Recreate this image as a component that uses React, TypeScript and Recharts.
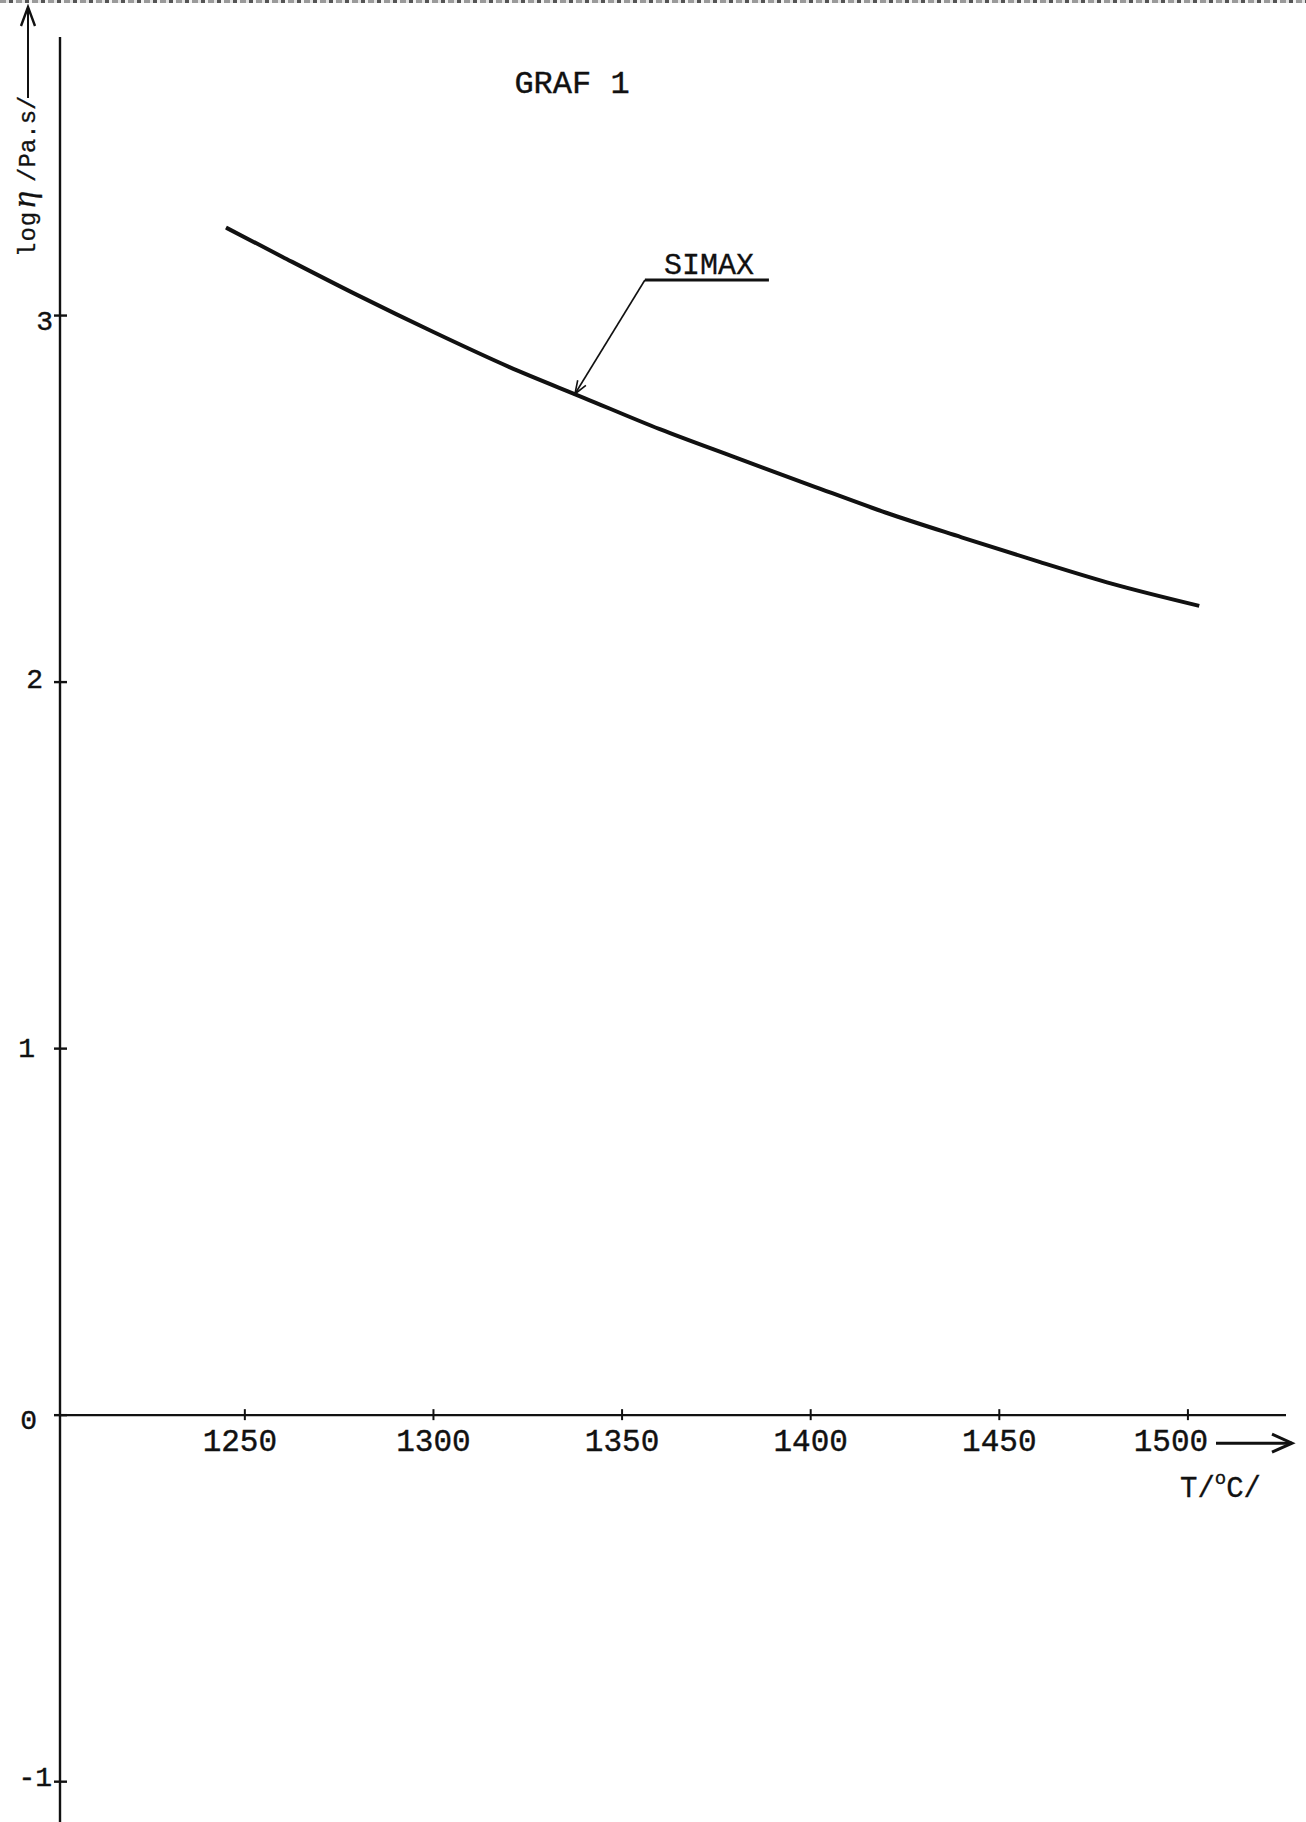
import React from 'react';
import { LineChart, Line, XAxis, YAxis, ReferenceLine, ReferenceDot } from 'recharts';

// SIMAX viscosity curve
const temps = [1245, 1260, 1280, 1300, 1320, 1340, 1360, 1380, 1400, 1420, 1440, 1460, 1480, 1503];
const logVisc = [3.24, 3.16, 3.055, 2.955, 2.86, 2.775, 2.69, 2.613, 2.537, 2.462, 2.395, 2.33, 2.268, 2.208];

const tempTicks = [1250, 1300, 1350, 1400, 1450, 1500];
const logTicks = [-1, 0, 1, 2, 3];

const curve = temps.map((t, i) => ({ t, v: logVisc[i] }));

const INK = '#111';
const MONO = '"Liberation Mono", "DejaVu Sans Mono", monospace';

// the typed labels sit a bit unevenly next to the axes
const yNudge: Record<number, [number, number]> = {
  3: [-7, 7],
  2: [-17, -2],
  1: [-25, 1],
  0: [-23, 6],
  [-1]: [-8, -3],
};
const xNudge: Record<number, number> = { 1250: -5, 1500: -17 };

function YTick({ x, y, payload }: any) {
  const [dx, dy] = yNudge[payload.value] ?? [-10, 0];
  return (
    <g>
      <line x1={x - 6} x2={x + 7} y1={y} y2={y} stroke={INK} strokeWidth={2.4} />
      <text
        x={x + dx}
        y={y + dy}
        textAnchor="end"
        dominantBaseline="central"
        fontFamily={MONO}
        fontSize={28}
        fill={INK}
        stroke={INK}
        strokeWidth={0.4}
      >
        {payload.value < 0 ? `-${Math.abs(payload.value)}` : payload.value}
      </text>
    </g>
  );
}

function xTickShape(t: number) {
  return ({ cx, cy }: any) => (
    <g>
      <line x1={cx} x2={cx} y1={cy - 6} y2={cy + 5} stroke={INK} strokeWidth={2} />
      <text
        x={cx + (xNudge[t] ?? 0)}
        y={cy + 36}
        textAnchor="middle"
        fontFamily={MONO}
        fontSize={31}
        fill={INK}
        stroke={INK}
        strokeWidth={0.4}
      >
        {t}
      </text>
    </g>
  );
}

function AxisEnd({ cx, cy }: any) {
  const ay = cy + 28;
  return (
    <g>
      <line x1={cx - 70} x2={cx + 6} y1={ay} y2={ay} stroke={INK} strokeWidth={3} />
      <polyline
        points={`${cx - 14},${ay - 9} ${cx + 6},${ay} ${cx - 14},${ay + 9}`}
        fill="none"
        stroke={INK}
        strokeWidth={3}
      />
      <text x={cx - 106} y={cy + 82} fontFamily={MONO} fontSize={29} fill={INK} stroke={INK} strokeWidth={0.3}>
        T/<tspan fontSize={19} dy={-13}>o</tspan>
        <tspan dy={13}>C/</tspan>
      </text>
    </g>
  );
}

function SimaxCallout({ cx, cy }: any) {
  const ex = cx + 70;
  const ey = cy - 114;
  const len = Math.hypot(ex - cx, ey - cy);
  const ux = (ex - cx) / len;
  const uy = (ey - cy) / len;
  const head = (a: number) => {
    const c = Math.cos(a);
    const s = Math.sin(a);
    return `${cx + 14 * (ux * c - uy * s)},${cy + 14 * (ux * s + uy * c)}`;
  };
  return (
    <g>
      <line x1={cx} y1={cy} x2={ex} y2={ey} stroke={INK} strokeWidth={1.6} />
      <polyline points={`${head(0.35)} ${cx},${cy} ${head(-0.35)}`} fill="none" stroke={INK} strokeWidth={1.6} />
      <line x1={ex} y1={ey} x2={ex + 124} y2={ey} stroke={INK} strokeWidth={3} />
      <text
        x={ex + 64}
        y={ey - 6}
        textAnchor="middle"
        fontFamily={MONO}
        fontSize={30}
        fill={INK}
        stroke={INK}
        strokeWidth={0.3}
      >
        SIMAX
      </text>
    </g>
  );
}

export default function App() {
  return (
    <div style={{ position: 'absolute', left: 0, top: 0, width: 1306, height: 1822, background: '#fff' }}>
      <div
        style={{
          position: 'absolute',
          left: 0,
          top: 0,
          width: 1306,
          height: 3,
          background: 'repeating-linear-gradient(90deg, #9a9a9a 0 6px, #e4e4e4 6px 9px, #555 9px 13px, #f2f2f2 13px 16px)',
        }}
      />
      <LineChart width={1306} height={1822} data={curve} margin={{ top: 37, right: 20, bottom: 0, left: 0 }}>
        <XAxis type="number" dataKey="t" domain={[1201, 1526]} hide allowDataOverflow />
        <YAxis
          type="number"
          domain={[-1.11, 3.76]}
          ticks={logTicks}
          interval={0}
          width={60}
          tickSize={0}
          tickMargin={0}
          tickLine={false}
          axisLine={{ stroke: INK, strokeWidth: 2.4 }}
          tick={<YTick />}
          allowDataOverflow
        />
        <ReferenceLine y={0} stroke={INK} strokeWidth={2.4} />
        {tempTicks.map((t) => (
          <ReferenceDot key={t} x={t} y={0} r={1} ifOverflow="visible" shape={xTickShape(t)} />
        ))}
        <ReferenceDot x={1526} y={0} r={1} ifOverflow="visible" shape={<AxisEnd />} />
        <Line
          type="monotone"
          dataKey="v"
          stroke={INK}
          strokeWidth={4}
          dot={false}
          isAnimationActive={false}
        />
        <ReferenceDot x={1337.5} y={2.786} r={1} ifOverflow="visible" shape={<SimaxCallout />} />

        <text
          x={572}
          y={93}
          textAnchor="middle"
          fontFamily={MONO}
          fontSize={32}
          fill={INK}
          stroke={INK}
          strokeWidth={0.4}
        >
          GRAF 1
        </text>
        <g>
          <text
            transform="translate(35,257) rotate(-90)"
            fontFamily={MONO}
            fontSize={24}
            fill={INK}
            stroke={INK}
            strokeWidth={0.3}
          >
            <tspan letterSpacing={1}>log</tspan>
            <tspan dx={3} fontFamily='"Liberation Serif", serif' fontStyle="italic" fontSize={34}>
              η
            </tspan>
            <tspan dx={9}>/Pa.s/</tspan>
          </text>
          <line x1={28} x2={28} y1={98} y2={8} stroke={INK} strokeWidth={2} />
          <polyline points="21,26 28,7 35,26" fill="none" stroke={INK} strokeWidth={2.4} />
        </g>
      </LineChart>
    </div>
  );
}
